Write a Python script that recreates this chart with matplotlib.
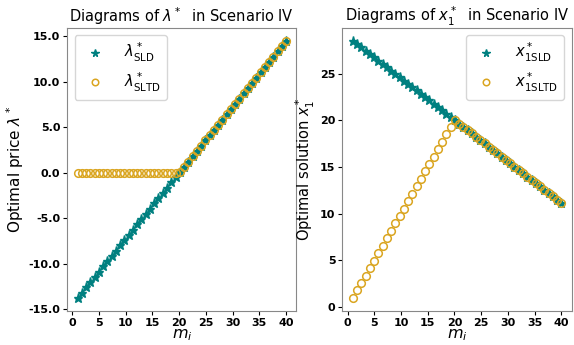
import matplotlib
matplotlib.use("Agg")
import matplotlib.pyplot as plt
from matplotlib.ticker import FormatStrFormatter, MultipleLocator

m = [1.00, 1.80, 2.59, 3.39, 4.18, 4.98, 5.78, 6.57, 7.37, 8.16,
     8.96, 9.76, 10.55, 11.35, 12.14, 12.94, 13.73, 14.53, 15.33, 16.12,
     16.92, 17.71, 18.51, 19.31, 20.10, 20.90, 21.69, 22.49, 23.29, 24.08,
     24.88, 25.67, 26.47, 27.27, 28.06, 28.86, 29.65, 30.45, 31.24, 32.04,
     32.84, 33.63, 34.43, 35.22, 36.02, 36.82, 37.61, 38.41, 39.20, 40.00]

lam_sld = [-13.74, -13.16, -12.59, -12.01, -11.44, -10.86, -10.29, -9.71, -9.14, -8.56,
           -7.98, -7.41, -6.83, -6.26, -5.68, -5.11, -4.53, -3.96, -3.38, -2.81,
           -2.23, -1.65, -1.08, -0.50, 0.07, 0.65, 1.22, 1.80, 2.37, 2.95,
           3.53, 4.10, 4.68, 5.25, 5.83, 6.40, 6.98, 7.55, 8.13, 8.70,
           9.28, 9.86, 10.43, 11.01, 11.58, 12.16, 12.73, 13.31, 13.88, 14.46]

lam_sltd = [0.00, 0.00, 0.00, 0.00, 0.00, 0.00, 0.00, 0.00, 0.00, 0.00,
            0.00, 0.00, 0.00, 0.00, 0.00, 0.00, 0.00, 0.00, 0.00, 0.00,
            0.00, 0.00, 0.00, 0.00, 0.07, 0.65, 1.22, 1.80, 2.37, 2.95,
            3.53, 4.10, 4.68, 5.25, 5.83, 6.40, 6.98, 7.55, 8.13, 8.70,
            9.28, 9.86, 10.43, 11.01, 11.58, 12.16, 12.73, 13.31, 13.88, 14.46]

x1_sld = [28.50, 28.15, 27.79, 27.44, 27.08, 26.73, 26.38, 26.02, 25.67, 25.31,
          24.96, 24.60, 24.25, 23.90, 23.54, 23.19, 22.83, 22.48, 22.13, 21.77,
          21.42, 21.06, 20.71, 20.36, 20.00, 19.65, 19.29, 18.94, 18.59, 18.23,
          17.88, 17.52, 17.17, 16.81, 16.46, 16.11, 15.75, 15.40, 15.04, 14.69,
          14.34, 13.98, 13.63, 13.27, 12.92, 12.57, 12.21, 11.86, 11.50, 11.15]

x1_sltd = [1.00, 1.80, 2.59, 3.39, 4.18, 4.98, 5.78, 6.57, 7.37, 8.16,
           8.96, 9.76, 10.55, 11.35, 12.14, 12.94, 13.73, 14.53, 15.33, 16.12,
           16.92, 17.71, 18.51, 19.31, 20.00, 19.65, 19.29, 18.94, 18.59, 18.23,
           17.88, 17.52, 17.17, 16.81, 16.46, 16.11, 15.75, 15.40, 15.04, 14.69,
           14.34, 13.98, 13.63, 13.27, 12.92, 12.57, 12.21, 11.86, 11.50, 11.15]

teal = "#008080"
gold = "#DAA520"

fig, (ax1, ax2) = plt.subplots(1, 2, figsize=(5.74, 3.45), dpi=100)
fig.subplots_adjust(left=0.1172, right=0.996, bottom=0.0994, top=0.9188, wspace=0.2007)

star_kw = dict(linestyle="none", marker="*", markersize=6.5, color=teal)
circ_kw = dict(linestyle="none", marker="o", markersize=5.5, markerfacecolor="none",
               markeredgecolor=gold, markeredgewidth=1.1)
leg_kw = dict(fontsize=10.5, handletextpad=1.0, borderpad=0.4, labelspacing=0.45,
              markerscale=0.85)

ax1.plot(m, lam_sld, label=r"$\lambda^*_{\rm SLD}$", **star_kw)
ax1.plot(m, lam_sltd, label=r"$\lambda^*_{\rm SLTD}$", **circ_kw)
ax1.set_title(r"Diagrams of $\lambda^*$  in Scenario IV", fontsize=10.5, pad=4)
ax1.set_ylabel(r"Optimal price $\lambda^*$", fontsize=11, labelpad=2)
ax1.set_xlabel(r"$m_i$", fontsize=11.5, labelpad=0)
ax1.xaxis.set_major_locator(MultipleLocator(5))
ax1.yaxis.set_major_locator(MultipleLocator(5))
ax1.yaxis.set_major_formatter(FormatStrFormatter("%.1f"))
ax1.legend(loc="upper left", **leg_kw)

ax2.plot(m, x1_sld, label=r"$x^*_{\rm 1SLD}$", **star_kw)
ax2.plot(m, x1_sltd, label=r"$x^*_{\rm 1SLTD}$", **circ_kw)
ax2.set_title(r"Diagrams of $x_1^*$  in Scenario IV", fontsize=10.5, pad=4)
ax2.set_ylabel(r"Optimal solution $x_1^*$", fontsize=10.5, labelpad=2)
ax2.set_xlabel(r"$m_i$", fontsize=11.5, labelpad=0)
ax2.xaxis.set_major_locator(MultipleLocator(5))
ax2.yaxis.set_major_locator(MultipleLocator(5))
ax2.legend(loc="upper right", **leg_kw)

for ax in (ax1, ax2):
    for s in ax.spines.values():
        s.set_color("#888888")
    ax.tick_params(colors="black", labelsize=8, length=3, width=0.8, pad=2)
    for lab in ax.get_xticklabels() + ax.get_yticklabels():
        lab.set_fontweight("bold")

fig.savefig("out.png", dpi=100)
